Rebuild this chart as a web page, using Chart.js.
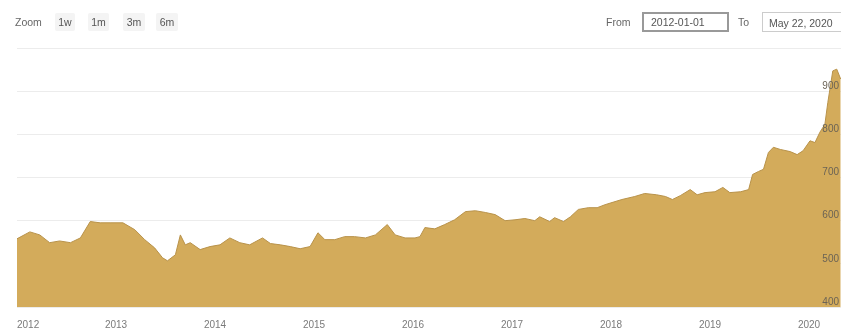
<!DOCTYPE html>
<html>
<head>
<meta charset="utf-8">
<script src="https://cdn.jsdelivr.net/npm/chart.js@4/dist/chart.umd.min.js"></script>
<style>
  html, body { margin: 0; padding: 0; background: #fff; overflow: hidden; }
  #wrap { position: relative; width: 841px; height: 336px; font-family: "Liberation Sans", Arial, sans-serif; }
  canvas { position: absolute; left: 0; top: 0; }
  .ui { position: absolute; font-size: 10.5px; color: #666; line-height: 18px; white-space: nowrap; }
  .btn { position: absolute; top: 13px; height: 18px; background: #f4f4f4; border-radius: 2px; font-size: 10.5px; color: #555; text-align: center; line-height: 18px; }
  .box { position: absolute; top: 12px; height: 20px; border: 1px solid #ccc; font-size: 10.5px; color: #555; line-height: 20px; padding-left: 6px; box-sizing: border-box; white-space: nowrap; }
</style>
</head>
<body>
<div id="wrap">
  <canvas id="c" width="841" height="336"></canvas>
  <div class="ui" style="left:15px;top:13px;">Zoom</div>
  <div class="btn" style="left:55px;width:20px;">1w</div>
  <div class="btn" style="left:88px;width:21px;">1m</div>
  <div class="btn" style="left:123px;width:22px;">3m</div>
  <div class="btn" style="left:156px;width:22px;">6m</div>
  <div class="ui" style="left:606px;top:13px;">From</div>
  <div class="box" style="left:642px;width:87px;border:2px double #999;line-height:16px;padding-left:7px;">2012-01-01</div>
  <div class="ui" style="left:738px;top:13px;">To</div>
  <div class="box" style="left:762px;width:90px;">May 22, 2020</div>
</div>
<script>
// Time as decimal years
const dates = [2012.00,2012.13,2012.23,2012.33,2012.43,2012.54,2012.64,2012.74,2012.84,2012.94,
  2013.07,2013.19,2013.29,2013.39,2013.47,2013.52,2013.60,2013.65,2013.70,2013.75,2013.85,2013.95,
  2014.05,2014.15,2014.25,2014.35,2014.48,2014.56,2014.66,2014.76,2014.86,2014.96,
  2015.04,2015.11,2015.21,2015.31,2015.41,2015.52,2015.62,2015.74,2015.82,2015.92,
  2016.02,2016.07,2016.12,2016.22,2016.32,2016.42,2016.53,2016.63,2016.73,2016.83,2016.93,
  2017.03,2017.13,2017.23,2017.28,2017.38,2017.43,2017.52,2017.59,2017.67,2017.77,2017.86,2017.94,
  2018.01,2018.11,2018.24,2018.34,2018.46,2018.55,2018.62,2018.70,2018.80,2018.87,2018.95,
  2019.05,2019.13,2019.20,2019.31,2019.39,2019.43,2019.49,2019.54,2019.59,2019.64,2019.71,2019.81,2019.88,2019.94,
  2020.01,2020.06,2020.11,2020.16,2020.19,2020.24,2020.28,2020.32];
const prices = [558,574,567,549,553,549,560,598,595,595,
  595,579,556,537,514,507,521,567,544,549,533,540,
  544,560,549,544,560,547,544,540,535,540,
  572,556,556,563,563,560,567,591,567,560,
  560,563,584,581,591,602,621,623,619,614,600,
  602,605,600,609,598,607,598,609,626,630,630,637,
  642,649,656,663,660,656,649,658,672,660,665,
  667,677,665,667,672,707,714,719,758,770,765,760,753,762,
  785,781,805,823,874,947,951,928];
const yearTicks = ['2012','2013','2014','2015','2016','2017','2018','2019','2020'];
const valueTicks = [400,500,600,700,800,900,1000];
const valueLabels = ['400','500','600','700','800','900',''];
const xMin = 2012, xMax = 2020.323;

const points = dates.map((d, i) => ({ x: d, y: prices[i] }));

function noPad(s) { s.paddingLeft = 0; s.paddingRight = 0; s.paddingTop = 0; s.paddingBottom = 0; }

// y-axis labels drawn on top of the area (inside the plot, right-aligned)
const labelsOnTop = {
  id: 'labelsOnTop',
  afterDatasetsDraw(chart) {
    const { ctx, chartArea } = chart;
    const ys = chart.scales.y;
    ctx.save();
    ctx.font = '10px "Liberation Sans", Arial, sans-serif';
    ctx.fillStyle = '#6b6355';
    ctx.textAlign = 'right';
    ctx.textBaseline = 'middle';
    valueTicks.forEach((v, i) => {
      if (!valueLabels[i]) return;
      ctx.fillText(valueLabels[i], chartArea.right - 2, ys.getPixelForValue(v) - 5);
    });
    ctx.restore();
  }
};

new Chart(document.getElementById('c'), {
  type: 'line',
  data: {
    datasets: [{
      data: points,
      borderColor: '#b8924a',
      borderWidth: 1,
      backgroundColor: '#d3ab5b',
      fill: 'start',
      pointRadius: 0,
      tension: 0
    }]
  },
  options: {
    responsive: false,
    devicePixelRatio: 1,
    animation: false,
    layout: { padding: { left: 17, right: 0, top: 48, bottom: 5 } },
    plugins: { legend: { display: false }, tooltip: { enabled: false } },
    scales: {
      x: {
        type: 'linear',
        min: xMin,
        max: xMax,
        grid: { display: false, drawTicks: false },
        border: { display: false },
        afterBuildTicks: (axis) => {
          axis.ticks = yearTicks.map(t => ({ value: Number(t) })).concat([{ value: xMax }]);
        },
        afterFit: (s) => { s.height = 24; noPad(s); },
        ticks: {
          padding: 12,
          align: 'inner',
          color: '#7a7a7a',
          font: { family: 'Liberation Sans', size: 10 },
          maxRotation: 0,
          autoSkip: false,
          callback: (v) => yearTicks.includes(String(v)) ? String(v) : ''
        }
      },
      y: {
        position: 'right',
        min: 400,
        max: 1000,
        afterBuildTicks: (axis) => { axis.ticks = valueTicks.map(v => ({ value: v })); },
        afterFit: (s) => { s.width = 0; noPad(s); },
        grid: { color: '#ececec', drawTicks: false },
        border: { display: false },
        ticks: { display: false }
      }
    }
  },
  plugins: [labelsOnTop]
});
</script>
</body>
</html>
